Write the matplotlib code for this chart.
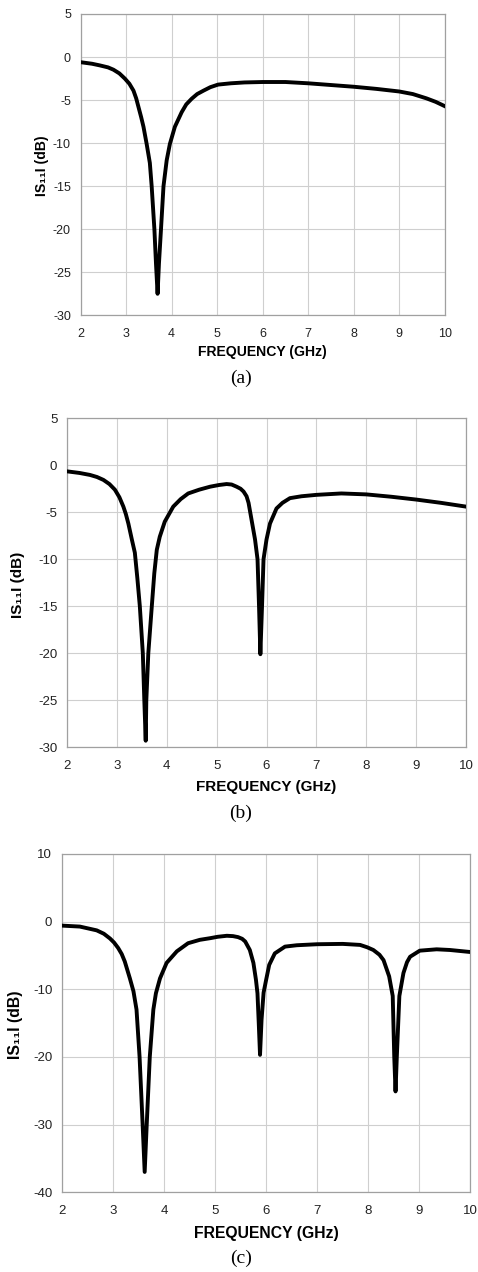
import matplotlib

matplotlib.use("Agg")

import matplotlib.pyplot as plt

plt.rcParams["font.family"] = ["Liberation Sans", "DejaVu Sans"]
plt.rcParams["axes.unicode_minus"] = False

# (a) single resonance
freq_a = [2.0, 2.25, 2.42, 2.6, 2.72, 2.85, 2.97, 3.07, 3.16, 3.22, 3.27, 3.33,
          3.38, 3.45, 3.52, 3.56, 3.59, 3.62, 3.655, 3.69, 3.72, 3.765, 3.82,
          3.89, 3.96, 4.07, 4.22, 4.32, 4.44, 4.56, 4.7, 4.85, 5.02, 5.3, 5.6,
          6.0, 6.5, 7.0, 7.5, 8.0, 8.5, 9.0, 9.3, 9.6, 9.8, 10.0]
s11_a = [-0.6, -0.78, -0.97, -1.2, -1.47, -1.9, -2.5, -3.1, -3.9, -4.8, -5.8, -7.0,
         -8.1, -10.1, -12.3, -15.0, -17.5, -20.0, -24.0, -27.5, -24.0, -20.0, -15.0,
         -12.0, -10.1, -8.1, -6.4, -5.5, -4.84, -4.3, -3.9, -3.5, -3.2, -3.05, -2.95,
         -2.9, -2.9, -3.05, -3.25, -3.45, -3.7, -4.0, -4.3, -4.8, -5.2, -5.7]

# (b) two resonances
freq_b = [2.0, 2.25, 2.46, 2.6, 2.73, 2.85, 2.96, 3.05, 3.13, 3.18, 3.23, 3.30,
          3.36, 3.41, 3.46, 3.52, 3.55, 3.578, 3.59, 3.63, 3.70, 3.75, 3.80,
          3.86, 3.96, 4.13, 4.28, 4.43, 4.65, 4.87, 5.05, 5.2, 5.3, 5.40, 5.48,
          5.54, 5.60, 5.64, 5.70, 5.77, 5.82, 5.85, 5.877, 5.91, 5.94, 6.0, 6.07,
          6.2, 6.32, 6.47, 6.7, 7.0, 7.5, 8.0, 8.5, 9.0, 9.5, 10.0]
s11_b = [-0.65, -0.82, -1.03, -1.25, -1.56, -2.0, -2.6, -3.4, -4.4, -5.2, -6.2, -7.9,
         -9.3, -12.0, -15.0, -20.0, -25.0, -29.3, -25.0, -20.0, -15.0, -11.5, -9.0,
         -7.6, -6.0, -4.4, -3.6, -3.0, -2.6, -2.28, -2.1, -2.0, -2.05, -2.28, -2.5,
         -2.8, -3.3, -4.0, -5.8, -7.9, -10.0, -15.0, -20.1, -15.0, -10.0, -7.9, -6.2,
         -4.6, -4.0, -3.5, -3.3, -3.15, -3.0, -3.1, -3.35, -3.65, -4.0, -4.4]

# (c) three resonances
freq_c = [2.0, 2.35, 2.68, 2.82, 2.94, 3.02, 3.10, 3.17, 3.23, 3.33, 3.40, 3.46,
          3.52, 3.58, 3.62, 3.66, 3.72, 3.79, 3.84, 3.92, 4.05, 4.25, 4.47, 4.7,
          4.9, 5.05, 5.23, 5.35, 5.45, 5.53, 5.59, 5.68, 5.75, 5.80, 5.83, 5.855,
          5.88, 5.91, 5.95, 6.0, 6.06, 6.17, 6.37, 6.6, 7.0, 7.5, 7.84, 7.98,
          8.1, 8.22, 8.30, 8.41, 8.48, 8.51, 8.535, 8.56, 8.61, 8.69, 8.76, 8.82,
          9.01, 9.34, 9.6, 10.0]
s11_c = [-0.6, -0.74, -1.3, -1.8, -2.5, -3.1, -3.9, -4.8, -5.9, -8.4, -10.3, -13.0,
         -20.0, -30.0, -37.0, -30.0, -20.0, -13.0, -10.6, -8.4, -6.1, -4.4, -3.2, -2.7,
         -2.46, -2.25, -2.1, -2.15, -2.3, -2.55, -2.95, -4.2, -6.1, -8.6, -10.6, -15.0,
         -19.7, -14.5, -10.5, -8.6, -6.4, -4.7, -3.7, -3.5, -3.35, -3.3, -3.45, -3.8,
         -4.2, -4.9, -5.7, -8.1, -11.0, -20.0, -25.1, -20.0, -11.0, -7.6, -6.0, -5.2,
         -4.3, -4.1, -4.2, -4.5]

x_ticks = [2, 3, 4, 5, 6, 7, 8, 9, 10]

panels = [
    # freq, s11, axes rect, ylim, yticks, ylabel x, caption, caption y px, tick size, label size
    (freq_a, s11_a, [0.1688, 0.7521, 0.7615, 0.2369], (-30, 5), range(-30, 6, 5), -0.106, "(a)", 378, 9.0, 10.1),
    (freq_b, s11_b, [0.1402, 0.4125, 0.8347, 0.2587], (-30, 5), range(-30, 6, 5), -0.123, "(b)", 813, 9.5, 11.0),
    (freq_c, s11_c, [0.1297, 0.0627, 0.8542, 0.2660], (-40, 10), range(-40, 11, 10), -0.115, "(c)", 1258, 9.5, 11.3),
]

fig = plt.figure(figsize=(4.78, 12.72), dpi=100)

for freq, s11, rect, ylim, yticks, ylab_x, caption, cap_y, tsize, lsize in panels:
    ax = fig.add_axes(rect)
    ax.plot(freq, s11, color="black", lw=2.8, solid_joinstyle="round", zorder=3)
    ax.set_xlim(2, 10)
    ax.set_ylim(*ylim)
    ax.set_xticks(x_ticks)
    ax.set_yticks(list(yticks))
    ax.grid(True, color="#cfcfcf", lw=0.8)
    for sp in ax.spines.values():
        sp.set_color("#a0a0a0")
        sp.set_linewidth(0.9)
    ax.tick_params(length=0, labelsize=tsize, labelcolor="#222222")
    ax.tick_params(axis="x", pad=9)
    ax.tick_params(axis="y", pad=7)
    ax.set_xlabel("FREQUENCY (GHz)", fontsize=lsize, fontweight="bold", va="center")
    ax.xaxis.set_label_coords(0.5, -0.122)
    ax.set_ylabel("IS\u2081\u2081I (dB)", fontsize=lsize, fontweight="bold", va="center")
    ax.yaxis.set_label_coords(ylab_x, 0.495)
    fig.text(241 / 478, 1 - cap_y / 1272, caption, ha="center", va="center",
             fontsize=14, family="Liberation Serif")

fig.savefig("out.png", dpi=100)
